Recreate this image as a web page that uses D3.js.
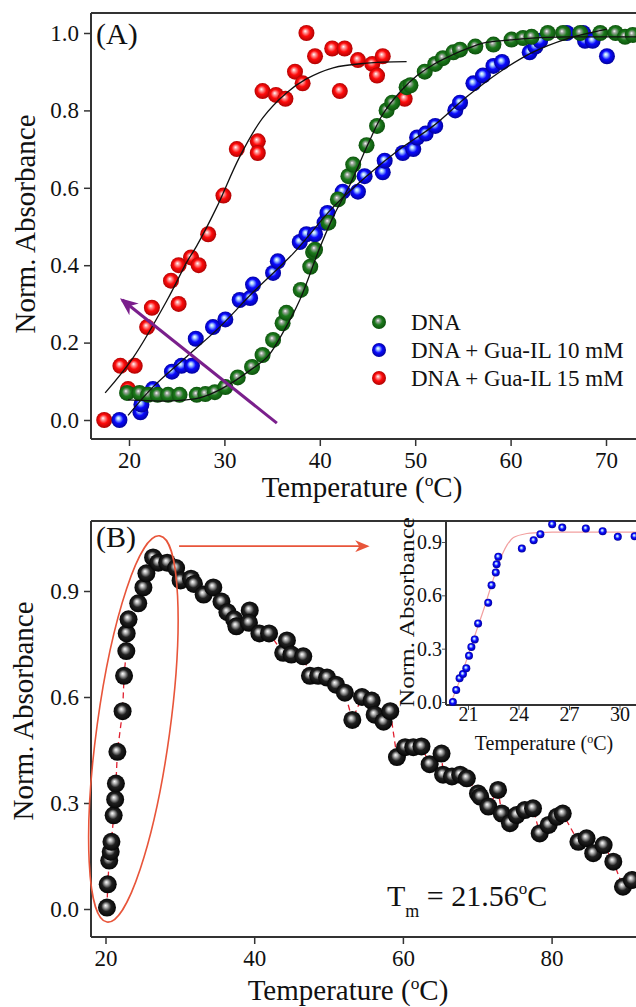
<!DOCTYPE html>
<html>
<head>
<meta charset="utf-8">
<script src="https://cdn.jsdelivr.net/npm/d3@7"></script>
<style>
  body { margin: 0; background: #fff; }
  svg { display: block; font-family: "Liberation Serif", "Times New Roman", serif; }
</style>
</head>
<body>
<svg id="chart" width="636" height="1007"></svg>
<script>
// ---- panel A data : temperature (C) / normalized absorbance ----
var dnaT = [19.8,21.1,22.0,23.0,24.1,25.3,27.1,28.0,29.0,30.1,31.4,32.9,34.0,35.1,36.1,36.5,38.0,39.0,39.3,39.5,40.9,41.9,43.0,43.5,44.9,46.0,47.0,47.6,49.1,49.5,51.0,52.1,52.9,54.0,54.7,56.3,58.2,60.1,61.3,62.2,63.9,65.5,67.3,69.4,71.0,72.0,72.8];
var dnaV = [0.07,0.07,0.065,0.065,0.065,0.065,0.065,0.067,0.072,0.085,0.11,0.137,0.168,0.207,0.25,0.277,0.336,0.396,0.434,0.44,0.51,0.57,0.63,0.66,0.71,0.76,0.80,0.82,0.86,0.865,0.90,0.92,0.935,0.95,0.957,0.965,0.97,0.983,0.987,0.99,1.0,1.0,1.0,1.0,1.0,0.99,0.995];

var il10T = [19.0,21.2,21.3,22.5,24.5,25.5,26.6,27.0,28.8,30.1,31.6,32.7,33.0,35.1,35.6,37.9,38.6,39.5,40.5,40.8,42.4,44.0,44.7,46.6,46.8,48.7,49.8,50.2,51.1,52.1,54.2,54.7,56.1,57.1,58.2,59.1,62.0,62.6,63.1,65.9,67.6,67.8,68.6,70.1];
var il10V = [0.0,0.02,0.04,0.08,0.125,0.14,0.14,0.21,0.24,0.26,0.31,0.315,0.35,0.38,0.41,0.46,0.48,0.48,0.51,0.535,0.59,0.59,0.63,0.64,0.67,0.69,0.70,0.73,0.74,0.76,0.80,0.82,0.87,0.89,0.915,0.925,0.95,0.965,0.98,1.0,1.0,0.98,0.98,0.94];

var il15T = [17.4,19.1,19.9,20.6,21.9,22.4,24.4,25.2,25.2,26.5,27.3,28.3,29.9,31.3,33.5,33.5,34.0,35.4,36.4,37.4,38.2,38.6,39.5,41.3,42.1,42.6,44.0,45.5,46.0,46.6,48.9];
var il15V = [0.0,0.14,0.08,0.14,0.24,0.29,0.36,0.40,0.30,0.42,0.40,0.48,0.58,0.70,0.72,0.69,0.85,0.84,0.83,0.90,0.87,1.0,0.94,0.96,0.85,0.96,0.93,0.92,0.89,0.94,0.83];

// fitted curves
var fitDnaT = [19.9,22,24,26,27.4,29,30.9,32.5,34.5,36,37.9,40,41.5,43.2,45,46.6,48.5,50.2,52,53.6,55.5,57.1,60,62.3,66,69.4,74];
var fitDnaV = [0.052,0.05,0.049,0.052,0.057,0.072,0.098,0.125,0.163,0.22,0.31,0.445,0.53,0.61,0.71,0.79,0.85,0.89,0.92,0.94,0.96,0.974,0.982,0.987,0.99,0.99,0.99];
var fit10T = [19.9,22.5,26.1,29.5,33,37.2,41.4,44.9,48.4,51.9,55.4,58.9,62.3,65.9,70.1];
var fit10V = [0.012,0.085,0.165,0.24,0.33,0.43,0.55,0.63,0.70,0.76,0.835,0.90,0.95,0.985,1.01];
var fit15T = [17.5,20.4,24,26.1,27.1,29.2,31.6,34,36.5,38.5,41.4,44.9,49.1];
var fit15V = [0.07,0.16,0.31,0.41,0.45,0.55,0.68,0.78,0.845,0.88,0.91,0.922,0.926];

var legendLabels = ["DNA", "DNA + Gua-IL 10 mM", "DNA + Gua-IL 15 mM"];
var arrowA = [[35.5, -0.008], [19.3, 0.31]];   // purple arrow, tail -> head

// ---- panel B data ----
var bT = [20.2,20.3,20.5,20.7,20.8,21.1,21.3,21.4,21.6,22.3,22.5,22.8,22.85,23.1,24.4,25.1,25.5,26.4,27.1,28.3,29.5,30.1,31.5,31.9,33.2,34.5,35.6,36.4,37.3,37.6,39.4,39.3,40.7,42.0,43.9,44.4,45.0,46.6,47.5,48.6,49.8,51.0,52.2,53.2,54.5,55.8,56.2,57.4,58.3,59.2,60.3,61.4,62.5,63.6,65.2,65.4,66.6,67.7,68.6,70.1,70.4,71.5,72.8,73.3,74.4,75.3,76.4,77.5,78.4,79.6,80.7,81.5,83.6,84.7,85.6,87.0,88.3,89.6,90.8];
var bV = [0.004,0.07,0.137,0.162,0.19,0.265,0.31,0.355,0.445,0.56,0.66,0.73,0.78,0.82,0.865,0.91,0.95,0.995,0.98,0.98,0.965,0.93,0.935,0.92,0.89,0.91,0.87,0.84,0.82,0.80,0.845,0.81,0.78,0.78,0.725,0.76,0.72,0.715,0.66,0.66,0.655,0.635,0.612,0.535,0.60,0.59,0.55,0.53,0.56,0.43,0.458,0.458,0.46,0.41,0.44,0.38,0.375,0.38,0.37,0.327,0.318,0.29,0.337,0.27,0.243,0.266,0.28,0.285,0.214,0.238,0.261,0.27,0.19,0.2,0.158,0.181,0.134,0.063,0.082];

// inset
var inT = [20.1,20.3,20.5,20.7,20.9,21.06,21.2,21.4,21.6,22.2,22.4,22.65,22.7,22.8,24.2,24.9,25.3,26.0,26.6,28.0,29.0,29.9,30.9];
var inV = [0.0,0.067,0.133,0.157,0.19,0.26,0.31,0.352,0.442,0.558,0.657,0.728,0.775,0.817,0.863,0.91,0.944,1.0,0.981,0.976,0.961,0.929,0.933];
var inFitT = [20.0,20.5,21.0,21.5,22.0,22.5,22.9,23.3,23.7,24.5,26,28,32];
var inFitV = [0.0,0.12,0.26,0.40,0.54,0.69,0.80,0.88,0.925,0.948,0.955,0.955,0.955];

var ellipseB = {top: [27.3, 1.056], bottom: [20.2, -0.037], halfWidth: 4.9};
var arrowB = [[29.9, 1.027], [55.2, 1.027]];
var tmText = "21.56";

function zip(a, b) { return a.map(function(d, i) { return [d, b[i]]; }); }

var svg = d3.select("#chart");
var defs = svg.append("defs");

function sphere(id, c0, c1, c2, c3) {
  var g = defs.append("radialGradient").attr("id", id)
    .attr("cx", "50%").attr("cy", "50%").attr("r", "55%")
    .attr("fx", "42%").attr("fy", "38%");
  [[0, c0], [0.18, c1], [0.5, c2], [1, c3]].forEach(function(s) {
    g.append("stop").attr("offset", s[0]).attr("stop-color", s[1]);
  });
}
sphere("gGreen", "#ffffff", "#a0a8a0", "#1c7a1c", "#0a4a0a");
sphere("gBlue", "#ffffff", "#a8d0ff", "#0a0aff", "#00008a");
sphere("gRed", "#ffffff", "#ffa0a0", "#ff0c0c", "#a00000");
sphere("gBlack", "#ffffff", "#bbbbbb", "#202020", "#000000");

function marker(id, color, w, h) {
  defs.append("marker").attr("id", id)
    .attr("viewBox", "0 0 12 10").attr("refX", 10).attr("refY", 5)
    .attr("markerUnits", "userSpaceOnUse")
    .attr("markerWidth", w).attr("markerHeight", h).attr("orient", "auto")
    .append("path").attr("d", "M0,0 L12,5 L0,10 L3.5,5 Z").attr("fill", color);
}
marker("arrPurple", "#7a1f8c", 18, 15);
marker("arrRed", "#e8553a", 16, 12);

var axisColor = "#333";

function drawAxes(x, y, box, xticks, yticks, fmtY, fs) {
  var gx = svg.append("g").attr("transform", "translate(0," + box.bottom + ")")
    .call(d3.axisBottom(x).tickValues(xticks).tickSizeOuter(0).tickSize(7).tickPadding(6).tickFormat(d3.format("d")));
  var gy = svg.append("g").attr("transform", "translate(" + box.left + ",0)")
    .call(d3.axisLeft(y).tickValues(yticks).tickSizeOuter(0).tickSize(7).tickPadding(5).tickFormat(d3.format(fmtY)));
  [gx, gy].forEach(function(g) {
    g.select(".domain").remove();
    g.selectAll("line").attr("stroke", axisColor).attr("stroke-width", 1.5);
    g.selectAll("text").attr("fill", "#111").style("font-size", fs + "px")
      .style("font-family", "Liberation Serif");
  });
  svg.append("line").attr("x1", box.left).attr("x2", box.left).attr("y1", box.top).attr("y2", box.bottom)
    .attr("stroke", axisColor).attr("stroke-width", 2);
  svg.append("line").attr("x1", box.left).attr("x2", box.right).attr("y1", box.bottom).attr("y2", box.bottom)
    .attr("stroke", axisColor).attr("stroke-width", 2);
  if (box.frameTop) {
    svg.append("line").attr("x1", box.left).attr("x2", box.right).attr("y1", box.top).attr("y2", box.top)
      .attr("stroke", axisColor).attr("stroke-width", 2);
  }
  return [gx, gy];
}

function axisTitles(cx, xBase, cy, yBase, fs) {
  var xt = svg.append("text").attr("x", cx).attr("y", xBase).attr("text-anchor", "middle")
    .style("font-size", fs + "px").attr("fill", "#111");
  xt.append("tspan").text("Temperature (");
  xt.append("tspan").attr("dy", -fs * 0.38).style("font-size", (fs * 0.6) + "px").text("o");
  xt.append("tspan").attr("dy", fs * 0.38).text("C)");
  svg.append("text").attr("transform", "translate(" + yBase + "," + cy + ") rotate(-90)")
    .attr("text-anchor", "middle").style("font-size", fs + "px").attr("fill", "#111")
    .text("Norm. Absorbance");
}

// ================= Panel A =================
var boxA = {left: 91, right: 640, top: 13, bottom: 439, frameTop: true};
var xA = d3.scaleLinear().domain([20, 70]).range([129, 606]);
var yA = d3.scaleLinear().domain([0, 1]).range([420, 33]);
drawAxes(xA, yA, boxA, [20, 30, 40, 50, 60, 70], [0, 0.2, 0.4, 0.6, 0.8, 1.0], ".1f", 23);

var lineA = d3.line().x(function(d) { return xA(d[0]); }).y(function(d) { return yA(d[1]); }).curve(d3.curveCatmullRom);

var seriesA = [
  {t: dnaT, v: dnaV, fill: "url(#gGreen)"},
  {t: il10T, v: il10V, fill: "url(#gBlue)"},
  {t: il15T, v: il15V, fill: "url(#gRed)"}
];
// draw order: red, blue, green on top
[2, 1, 0].forEach(function(k) {
  var s = seriesA[k];
  svg.append("g").selectAll("circle").data(zip(s.t, s.v)).enter().append("circle")
    .attr("cx", function(d) { return xA(d[0]); })
    .attr("cy", function(d) { return yA(d[1]); })
    .attr("r", 8).attr("fill", s.fill);
});

[[fitDnaT, fitDnaV], [fit10T, fit10V], [fit15T, fit15V]].forEach(function(f) {
  svg.append("path").datum(zip(f[0], f[1])).attr("d", lineA)
    .attr("fill", "none").attr("stroke", "#111").attr("stroke-width", 1.3);
});

svg.append("line")
  .attr("x1", xA(arrowA[0][0])).attr("y1", yA(arrowA[0][1]))
  .attr("x2", xA(arrowA[1][0])).attr("y2", yA(arrowA[1][1]))
  .attr("stroke", "#7a1f8c").attr("stroke-width", 3).attr("marker-end", "url(#arrPurple)");

var leg = svg.append("g").attr("transform", "translate(379,322)");
legendLabels.forEach(function(lab, i) {
  leg.append("circle").attr("cx", 0).attr("cy", i * 28).attr("r", 7)
    .attr("fill", seriesA[i].fill);
  leg.append("text").attr("x", 32).attr("y", i * 28 + 8)
    .style("font-size", "23px").attr("fill", "#111").text(lab);
});

svg.append("text").attr("x", 96).attr("y", 44).style("font-size", "30px").attr("fill", "#111").text("(A)");
axisTitles(362, 497, 224, 35, 29);

// ================= Panel B =================
var boxB = {left: 91, right: 640, top: 521, bottom: 937, frameTop: true};
var xB = d3.scaleLinear().domain([20, 80]).range([105.5, 551.6]);
var yB = d3.scaleLinear().domain([0, 0.9]).range([909, 591]);
drawAxes(xB, yB, boxB, [20, 40, 60, 80], [0, 0.3, 0.6, 0.9], ".1f", 23);

svg.append("path").datum(zip(bT, bV))
  .attr("d", d3.line().x(function(d) { return xB(d[0]); }).y(function(d) { return yB(d[1]); }))
  .attr("fill", "none").attr("stroke", "#e02030").attr("stroke-width", 1.3).attr("stroke-dasharray", "6,4");

svg.append("g").selectAll("circle").data(zip(bT, bV)).enter().append("circle")
  .attr("cx", function(d) { return xB(d[0]); })
  .attr("cy", function(d) { return yB(d[1]); })
  .attr("r", 9).attr("fill", "url(#gBlack)");

// ellipse around the transition
(function() {
  var x1 = xB(ellipseB.top[0]), y1 = yB(ellipseB.top[1]);
  var x2 = xB(ellipseB.bottom[0]), y2 = yB(ellipseB.bottom[1]);
  var cx = (x1 + x2) / 2, cy = (y1 + y2) / 2;
  var ry = Math.hypot(x1 - x2, y1 - y2) / 2;
  var rx = xB(20 + ellipseB.halfWidth) - xB(20);
  var ang = Math.atan2(x1 - x2, y2 - y1) * 180 / Math.PI;
  svg.append("ellipse").attr("cx", cx).attr("cy", cy).attr("rx", rx).attr("ry", ry)
    .attr("transform", "rotate(" + ang + "," + cx + "," + cy + ")")
    .attr("fill", "none").attr("stroke", "#e8553a").attr("stroke-width", 1.6);
})();

svg.append("line")
  .attr("x1", xB(arrowB[0][0])).attr("y1", yB(arrowB[0][1]))
  .attr("x2", xB(arrowB[1][0])).attr("y2", yB(arrowB[1][1]))
  .attr("stroke", "#e8553a").attr("stroke-width", 1.8).attr("marker-end", "url(#arrRed)");

svg.append("text").attr("x", 96).attr("y", 547).style("font-size", "30px").attr("fill", "#111").text("(B)");
axisTitles(348, 1000, 711, 33, 29);

var tm = svg.append("text").attr("x", 387).attr("y", 906).style("font-size", "30px").attr("fill", "#111");
tm.append("tspan").text("T");
tm.append("tspan").attr("dy", 11).style("font-size", "18px").text("m");
tm.append("tspan").attr("dy", -11).text(" = " + tmText);
tm.append("tspan").attr("dy", -12).style("font-size", "17px").text("o");
tm.append("tspan").attr("dy", 12).text("C");

// ================= Inset =================
var boxI = {left: 446, right: 640, top: 520, bottom: 705, frameTop: false};
var xI = d3.scaleLinear().domain([21, 30]).range([468, 619.5]);
var yI = d3.scaleLinear().domain([0, 0.9]).range([702, 542]);
var gi = drawAxes(xI, yI, boxI, [21, 24, 27, 30], [0, 0.3, 0.6, 0.9], ".1f", 20);
gi[0].selectAll("line").attr("stroke", "#555").attr("stroke-width", 1).attr("y2", 5);
gi[1].selectAll("line").attr("stroke", "#555").attr("stroke-width", 1).attr("x2", -4);
gi[0].selectAll("text").attr("dy", "0.6em").attr("y", 4);
gi[1].selectAll("text").attr("x", -4);

svg.append("path").datum(zip(inFitT, inFitV))
  .attr("d", d3.line().x(function(d) { return xI(d[0]); }).y(function(d) { return yI(d[1]); }).curve(d3.curveCatmullRom))
  .attr("fill", "none").attr("stroke", "#f2a0a0").attr("stroke-width", 1.2);

svg.append("g").selectAll("circle").data(zip(inT, inV)).enter().append("circle")
  .attr("cx", function(d) { return xI(d[0]); })
  .attr("cy", function(d) { return yI(d[1]); })
  .attr("r", 4).attr("fill", "url(#gBlue)");

var ixt = svg.append("text").attr("x", 544).attr("y", 750).attr("text-anchor", "middle")
  .style("font-size", "20px").attr("fill", "#111");
ixt.append("tspan").text("Temperature (");
ixt.append("tspan").attr("dy", -7).style("font-size", "12px").text("o");
ixt.append("tspan").attr("dy", 7).text("C)");

svg.append("text").attr("transform", "translate(414,612) rotate(-90)")
  .attr("text-anchor", "middle").style("font-size", "21px").attr("fill", "#111")
  .attr("textLength", 190).attr("lengthAdjust", "spacingAndGlyphs")
  .text("Norm. Absorbance");
</script>
</body>
</html>
